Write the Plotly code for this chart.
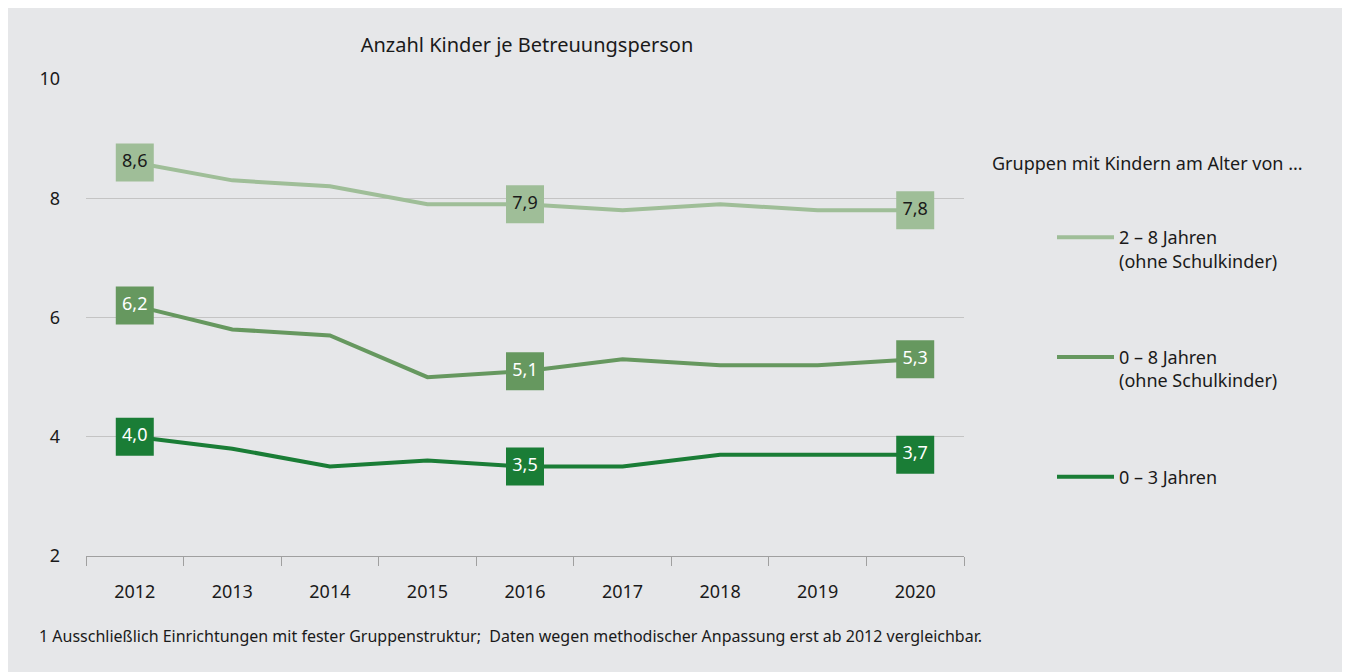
import plotly.graph_objects as go

years = ["2012", "2013", "2014", "2015", "2016", "2017", "2018", "2019", "2020"]
series_names = [
    "2 – 8 Jahren<br>(ohne Schulkinder)",
    "0 – 8 Jahren<br>(ohne Schulkinder)",
    "0 – 3 Jahren",
]
vals_2_8 = [8.6, 8.3, 8.2, 7.9, 7.9, 7.8, 7.9, 7.8, 7.8]
vals_0_8 = [6.2, 5.8, 5.7, 5.0, 5.1, 5.3, 5.2, 5.2, 5.3]
vals_0_3 = [4.0, 3.8, 3.5, 3.6, 3.5, 3.5, 3.7, 3.7, 3.7]
label_idx = [0, 4, 8]

colors = ["#9fbe98", "#66985f", "#1a7d36"]
label_font_colors = ["#1a1a1a", "white", "white"]
FONT = "Noto Sans"
BG = "#e6e7e9"

# plot area in figure pixels
L, R, T, B = 78, 956, 71, 548
PW, PH = R - L, B - T

fig = go.Figure()
for i, (name, vals) in enumerate(zip(series_names, [vals_2_8, vals_0_8, vals_0_3])):
    fig.add_trace(go.Scatter(
        x=years, y=vals, mode="lines", name=name,
        line=dict(color=colors[i], width=4),
        legendgroup=f"g{i}",
    ))
for i, vals in enumerate([vals_2_8, vals_0_8, vals_0_3]):
    fig.add_trace(go.Scatter(
        x=[years[k] for k in label_idx], y=[vals[k] for k in label_idx],
        mode="markers+text",
        text=[f"{vals[k]:.1f}".replace(".", ",") for k in label_idx],
        textposition="middle center",
        textfont=dict(family=FONT, size=18, color=label_font_colors[i]),
        marker=dict(symbol="square", size=38, color=colors[i], line=dict(width=0)),
        showlegend=False, hoverinfo="skip",
    ))

fig.update_layout(
    width=1350, height=672,
    paper_bgcolor=BG, plot_bgcolor=BG,
    margin=dict(l=L, r=1350 - R, t=T, b=672 - B),
    font=dict(family=FONT, size=18, color="#1a1a1a"),
    title=dict(text="Anzahl Kinder je Betreuungsperson", x=519 / 1350, xanchor="center",
               y=1 - 37 / 672, yanchor="middle", font=dict(size=20)),
    showlegend=True,
    legend=dict(
        x=(1044 - L) / PW, xanchor="left", y=1 - (211 - T) / PH, yanchor="top",
        bgcolor="rgba(0,0,0,0)", font=dict(size=18), valign="top",
        tracegroupgap=70, itemwidth=57,
    ),
    annotations=[dict(
        text="Gruppen mit Kindern am Alter von ...", xref="paper", yref="paper",
        x=(982 - L) / PW, y=1 - (155 - T) / PH, xanchor="left", yanchor="middle",
        showarrow=False, font=dict(size=18),
    ), dict(
        text="1 Ausschließlich Einrichtungen mit fester Gruppenstruktur;  Daten wegen methodischer Anpassung erst ab 2012 vergleichbar.",
        xref="paper", yref="paper", x=(29 - L) / PW, y=-(628 - B) / PH,
        xanchor="left", yanchor="middle", showarrow=False, font=dict(size=16),
    )],
)
fig.update_xaxes(
    type="category", range=[-0.5, 8.5], showgrid=False,
    showline=True, linecolor="#a0a0a0", linewidth=1,
    ticks="outside", tickson="boundaries", ticklen=9, tickcolor="#a0a0a0",
    ticklabelstandoff=19, tickfont=dict(size=18),
)
fig.update_yaxes(
    range=[2, 10], dtick=2, showgrid=True, gridcolor="#c4c4c4", gridwidth=1,
    zeroline=False, showline=False, ticks="", ticklabelstandoff=25,
    tickfont=dict(size=18),
)

fig.write_html("out.html")
